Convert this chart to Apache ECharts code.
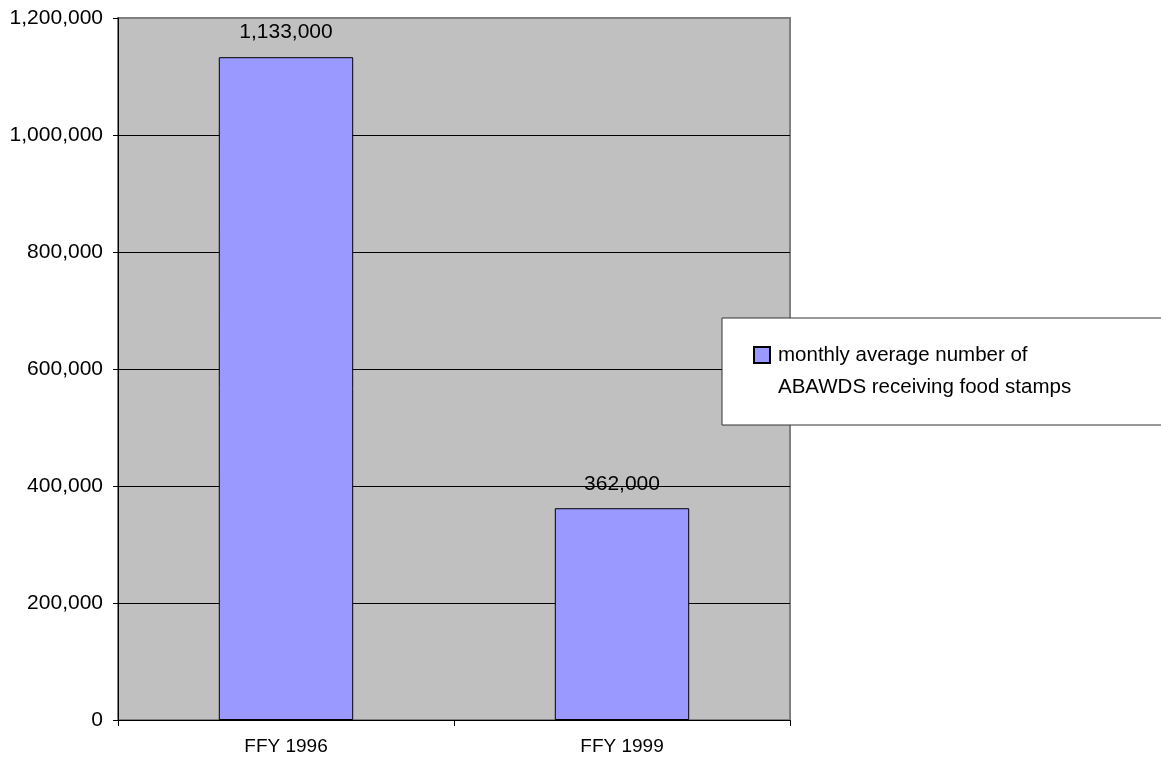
<!DOCTYPE html>
<html style="height: 100%;width: 100%;">
<head>
  <meta charset="UTF-8">
  <title>ABAWDS food stamps</title>
  <script src="https://cdn.jsdelivr.net/npm/echarts@6/dist/echarts.min.js"></script>
</head>
<body style="margin: 0;height: 761px;width: 1161px;background: #fff;">
  <div id="chart" style="width: 1161px;height: 761px;"></div>
<script>
// data
var years = ['FFY 1996', 'FFY 1999'];
var abawds = [1133000, 362000];
var seriesName = 'monthly average number of\nABAWDS receiving food stamps';

var font = 'Liberation Sans, Arial, sans-serif';

function fmt(v) {
  return String(v).replace(/\B(?=(\d{3})+(?!\d))/g, ',');
}

// square swatch sitting at the top of a taller (empty) box, so it lines up with the first text line
var swatch = 'path://M0,0 L16,0 L16,16 L0,16 Z M19,48';

var chart = echarts.init(document.getElementById('chart'));
chart.setOption({
  animation: false,
  grid: {
    left: 118, right: 371, top: 18, bottom: 41,
    show: true,
    backgroundColor: '#C0C0C0',
    borderColor: '#808080',
    borderWidth: 2
  },
  legend: {
    left: 722, top: 318,
    orient: 'vertical',
    padding: [21, 300, 22, 31],
    backgroundColor: '#fff',
    borderColor: '#333',
    borderWidth: 1,
    itemWidth: 19, itemHeight: 48,
    icon: swatch,
    textStyle: {
      fontFamily: font, fontSize: 20.5, color: '#000',
      lineHeight: 32
    },
    data: [seriesName]
  },
  xAxis: {
    type: 'category',
    data: years,
    axisLine: { lineStyle: { color: '#000', width: 1 } },
    axisTick: { show: true, length: 6, lineStyle: { color: '#000' } },
    axisLabel: { fontFamily: font, fontSize: 19, color: '#000', margin: 17 },
    splitLine: { show: false }
  },
  yAxis: {
    type: 'value',
    min: 0, max: 1200000, interval: 200000,
    axisLine: { show: true, lineStyle: { color: '#000', width: 1 } },
    axisTick: { show: true, length: 5, lineStyle: { color: '#000' } },
    axisLabel: { fontFamily: font, fontSize: 21, color: '#000', margin: 15, formatter: fmt },
    splitLine: {
      show: true,
      lineStyle: { color: ['#000', '#000', '#000', '#000', '#000', '#000', '#808080'], width: 1 }
    }
  },
  series: [{
    name: seriesName,
    type: 'bar',
    data: abawds,
    barWidth: '40%',
    itemStyle: { color: '#9999FF', borderColor: '#000', borderWidth: 1 },
    label: {
      show: true, position: 'top', distance: 14,
      fontFamily: font, fontSize: 21, color: '#000',
      formatter: function (p) { return fmt(p.value); }
    }
  }]
});
</script>
</body>
</html>
